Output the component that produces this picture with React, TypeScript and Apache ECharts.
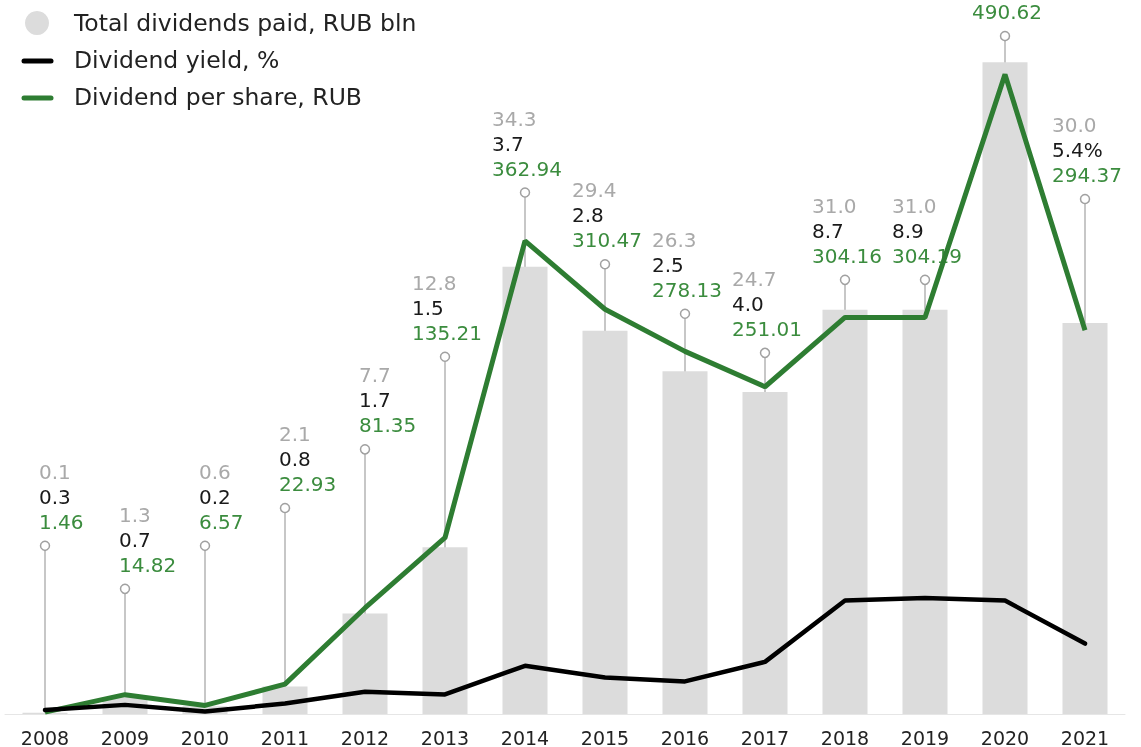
import React, { useEffect, useRef } from "react";
import * as echarts from "echarts";

const years = ["2008","2009","2010","2011","2012","2013","2014","2015","2016","2017","2018","2019","2020","2021"];
const totalDividends = [0.1, 1.3, 0.6, 2.1, 7.7, 12.8, 34.3, 29.4, 26.3, 24.7, 31.0, 31.0, 50.0, 30.0];
const dividendYield = [0.3, 0.7, 0.2, 0.8, 1.7, 1.5, 3.7, 2.8, 2.5, 4.0, 8.7, 8.9, 8.7, 5.4];
const dividendPerShare = [1.46, 14.82, 6.57, 22.93, 81.35, 135.21, 362.94, 310.47, 278.13, 251.01, 304.16, 304.19, 490.62, 294.37];
// height of each label pin, in RUB-per-share units
const pinLevels = [129, 96, 129, 158, 203, 274, 400, 345, 307, 277, 333, 333, 520, 395];

const FONT = "DejaVu Sans";
const GREEN_LINE = "#2e7d32";
const GREEN_TEXT = "#3b8c3e";
const GRAY_TEXT = "#a9a9a9";
const BAR_COLOR = "#dcdcdc";

export default function App() {
  const ref = useRef<HTMLDivElement>(null);
  useEffect(() => {
    const chart = echarts.init(ref.current!, null, { renderer: "svg" });
    const pinData = years.map((_, i) => [i, pinLevels[i], totalDividends[i], dividendYield[i], dividendPerShare[i]]);
    const last = years.length - 1;
    const legendText = (y: number, text: string) => ({
      type: "text",
      x: 74,
      y,
      style: { text, fill: "#222", fontSize: 23.5, fontFamily: FONT, verticalAlign: "middle" },
    });
    chart.setOption({
      animation: false,
      textStyle: { fontFamily: FONT },
      grid: { left: 5, right: 16, top: 10, bottom: 33 },
      xAxis: {
        type: "category",
        data: years,
        boundaryGap: true,
        axisTick: { show: false },
        axisLine: { lineStyle: { color: "#e6e6e6", width: 1 } },
        axisLabel: { color: "#222", fontSize: 19, margin: 14, fontFamily: FONT },
      },
      yAxis: [
        { type: "value", min: 0, max: 54, show: false, splitLine: { show: false } },
        { type: "value", min: 0, max: 540, show: false, splitLine: { show: false } },
      ],
      graphic: [
        { type: "circle", shape: { cx: 37, cy: 23, r: 12 }, style: { fill: BAR_COLOR } },
        { type: "line", shape: { x1: 24, y1: 61, x2: 51, y2: 61 }, style: { stroke: "#000", lineWidth: 5, lineCap: "round" } },
        { type: "line", shape: { x1: 24, y1: 98, x2: 51, y2: 98 }, style: { stroke: GREEN_LINE, lineWidth: 5, lineCap: "round" } },
        legendText(23, "Total dividends paid, RUB bln"),
        legendText(60, "Dividend yield, %"),
        legendText(97, "Dividend per share, RUB"),
      ],
      series: [
        {
          name: "Total dividends paid, RUB bln",
          type: "bar",
          data: totalDividends,
          barWidth: 45,
          yAxisIndex: 0,
          itemStyle: { color: BAR_COLOR },
        },
        {
          type: "custom",
          yAxisIndex: 1,
          data: pinData,
          encode: { x: 0, y: 1 },
          clip: false,
          renderItem: (params: any, api: any) => {
            const i = params.dataIndex;
            const base = api.coord([i, 0]);
            const top = api.coord([i, api.value(1)]);
            const x = top[0];
            const cy = top[1];
            const dps = api.value(4) as number;
            const lx = dps >= 100 ? x - 33 : x - 6;
            const children: any[] = [
              { type: "line", shape: { x1: x, y1: base[1], x2: x, y2: cy + 4.5 }, style: { stroke: "#b4b4b4", lineWidth: 1.5 } },
              { type: "circle", shape: { cx: x, cy, r: 4.5 }, style: { fill: "#fff", stroke: "#a0a0a0", lineWidth: 1.5 } },
            ];
            const texts = [
              { t: (api.value(2) as number).toFixed(1), c: GRAY_TEXT, dy: 74 },
              { t: (api.value(3) as number).toFixed(1) + (i === last ? "%" : ""), c: "#1a1a1a", dy: 49 },
              { t: dps.toFixed(2), c: GREEN_TEXT, dy: 24 },
            ];
            texts.forEach((tx) => {
              const ty = cy - tx.dy;
              if (ty < 8) return;
              children.push({
                type: "text",
                x: lx,
                y: ty,
                style: { text: tx.t, fill: tx.c, fontSize: 20, fontFamily: FONT, verticalAlign: "middle", align: "left" },
              });
            });
            return { type: "group", children };
          },
        },
        {
          name: "Dividend per share, RUB",
          type: "line",
          data: dividendPerShare,
          yAxisIndex: 1,
          showSymbol: false,
          lineStyle: { color: GREEN_LINE, width: 5 },
          itemStyle: { color: GREEN_LINE },
        },
        {
          name: "Dividend yield, %",
          type: "line",
          data: dividendYield,
          yAxisIndex: 0,
          showSymbol: false,
          lineStyle: { color: "#000", width: 4.5, cap: "round" },
          itemStyle: { color: "#000" },
        },
      ],
    });
    return () => chart.dispose();
  }, []);
  return <div ref={ref} style={{ position: "fixed", left: 0, top: 0, width: 1141, height: 747 }} />;
}
